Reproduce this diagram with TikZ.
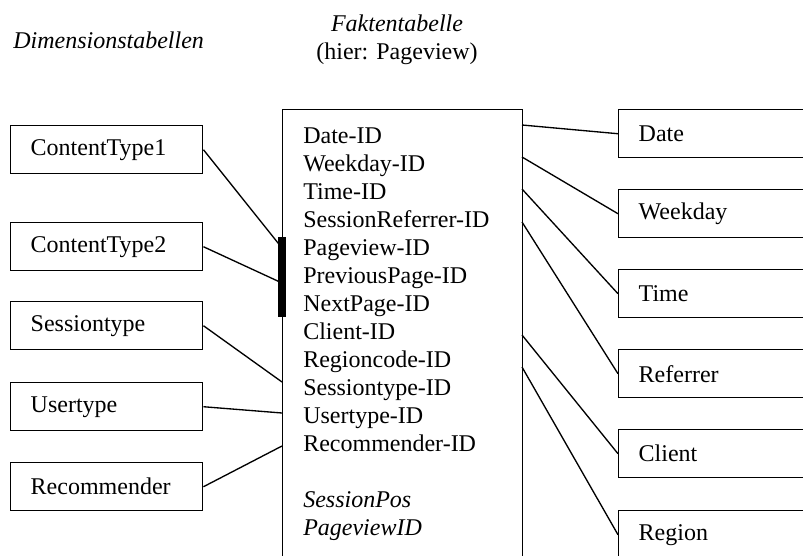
\documentclass[tikz,border=0pt]{standalone}
\usepackage{fontspec}
\setmainfont{Liberation Serif}
\usetikzlibrary{positioning}

\tikzset{
  dimtab/.style={draw, line width=1.1pt, anchor=north west, minimum width=144pt, minimum height=36pt, text width=114pt, inner xsep=15pt, inner ysep=0pt, align=left},
  link/.style={line width=1pt},
}

\begin{document}
\begin{tikzpicture}[x=0.75pt, y=-0.75pt, font=\fontsize{18pt}{21pt}\selectfont]
  \path[use as bounding box, clip] (0,0) rectangle (803,556);

  % headings
  \node[anchor=west, inner sep=0pt] (dimtitle) at (13,40) {\textit{Dimensionstabellen}};
  \node[align=center, inner sep=0pt] (facttitle) at (397,40) {\textit{Faktentabelle}\\(hier: Pageview)};

  % fact table
  \node[draw, line width=1.1pt, anchor=north west, minimum width=180pt, minimum height=370pt, inner sep=0pt] (fact) at (282,109) {};
  \node[anchor=north west, inner sep=0pt, align=left] (fields) at (303,128) {Date-ID\\Weekday-ID\\Time-ID\\SessionReferrer-ID\\Pageview-ID\\PreviousPage-ID\\NextPage-ID\\Client-ID\\Regioncode-ID\\Sessiontype-ID\\Usertype-ID\\Recommender-ID\\[21pt]\textit{SessionPos}\\\textit{PageviewID}};
  \draw[line width=6pt] (282,237) -- (282,317);

  % dimension tables, left
  \node[dimtab] (ct1) at (10,125) {ContentType1};
  \node[dimtab] (ct2) at (10,222) {ContentType2};
  \node[dimtab] (stype) at (10,301) {Sessiontype};
  \node[dimtab] (utype) at (10,382) {Usertype};
  \node[dimtab] (recom) at (10,462) {Recommender};

  % dimension tables, right
  \node[dimtab] (date) at (618,109) {Date};
  \node[dimtab] (wday) at (618,189) {Weekday};
  \node[dimtab] (time) at (618,269) {Time};
  \node[dimtab] (refer) at (618,349) {Referrer};
  \node[dimtab] (client) at (618,429) {Client};
  \node[dimtab] (region) at (618,510) {Region};

  \foreach \t/\yy in {ct1/248, ct2/283, stype/382, utype/413, recom/446} {
    \coordinate (\t-key) at (282,\yy);
    \draw[link] (\t.east) -- (\t-key);
  }
  \foreach \t/\yy in {date/125, wday/157, time/189, refer/222, client/335, region/367} {
    \coordinate (\t-key) at (522,\yy);
    \draw[link] (\t-key) -- (\t.west);
  }
\end{tikzpicture}
\end{document}
